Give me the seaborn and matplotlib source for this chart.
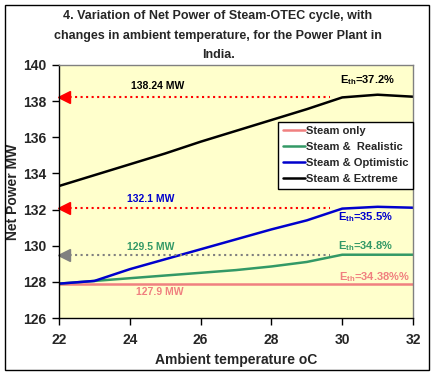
import pandas as pd
import seaborn as sns
import matplotlib.pyplot as plt
from matplotlib.patches import Rectangle

# data
temps = [22, 23, 24, 25, 26, 27, 28, 29, 30, 31, 32]
steam_only = [127.9, 127.9, 127.9, 127.9, 127.9, 127.9, 127.9, 127.9, 127.9, 127.9, 127.9]
steam_realistic = [127.9, 128.05, 128.2, 128.35, 128.5, 128.65, 128.85, 129.1, 129.5, 129.5, 129.5]
steam_optimistic = [127.9, 128.05, 128.7, 129.25, 129.8, 130.35, 130.9, 131.4, 132.05, 132.15, 132.1]
steam_extreme = [133.3, 133.9, 134.5, 135.1, 135.75, 136.35, 136.95, 137.55, 138.2, 138.35, 138.24]

series_names = ['Steam only', 'Steam &  Realistic', 'Steam & Optimistic', 'Steam & Extreme']
series_colors = ['#F08080', '#339966', '#0000CC', '#000000']

ref_values = [138.24, 132.1, 129.5]
ref_labels = ['138.24 MW', '132.1 MW', '129.5 MW']
ref_label_colors = ['#000000', '#0000CC', '#339966']
ref_arrow_colors = ['#FF0000', '#FF0000', '#808080']

eff_labels = ['E$_{\\mathrm{th}}$=34.38%%', 'E$_{\\mathrm{th}}$=34.8%',
              'E$_{\\mathrm{th}}$=35.5%', 'E$_{\\mathrm{th}}$=37.2%']

df = pd.DataFrame({
    'temp': temps * 4,
    'power': steam_only + steam_realistic + steam_optimistic + steam_extreme,
    'series': [n for n in series_names for _ in temps],
})

sns.set_theme(style='white')
plt.rcParams['font.family'] = ['Liberation Sans', 'DejaVu Sans']
plt.rcParams['font.weight'] = 'bold'
plt.rcParams['mathtext.fontset'] = 'custom'
plt.rcParams['mathtext.rm'] = 'Liberation Sans:bold'
plt.rcParams['mathtext.it'] = 'Liberation Sans:bold'
plt.rcParams['mathtext.bf'] = 'Liberation Sans:bold'

fig = plt.figure(figsize=(4.36, 3.75), dpi=100)
ax = fig.add_axes([0.1353, 0.152, 0.812, 0.675])
ax.set_facecolor('#FFFFCC')

sns.lineplot(data=df, x='temp', y='power', hue='series', hue_order=series_names,
             palette=series_colors, linewidth=1.8, ax=ax)

# dotted reference lines with arrow heads at the y axis
for v, c in zip(ref_values, ref_arrow_colors):
    ax.plot([22.15, 29.65], [v, v], linestyle=':', color=c, linewidth=1.5)
    ax.plot([22.15], [v], marker='<', color=c, markersize=8, clip_on=False)

ref_pos = [(24.8, 138.84), (24.6, 132.6), (24.6, 129.95)]
for (x, y), t, c in zip(ref_pos, ref_labels, ref_label_colors):
    ax.text(x, y, t, color=c, fontsize=7.5, fontweight='bold', ha='center', va='center')
ax.text(24.85, 127.44, '127.9 MW', color=series_colors[0], fontsize=7.5,
        fontweight='bold', ha='center', va='center')

eff_pos = [(30.9, 128.25), (30.65, 130.0), (30.65, 131.6), (30.7, 139.15)]
for (x, y), t, c in zip(eff_pos, eff_labels, series_colors):
    ax.text(x, y, t, color=c, fontsize=8, ha='center', va='center')

ax.set_xlim(22, 32)
ax.set_ylim(126, 140)
ax.set_xticks(range(22, 33, 2))
ax.set_yticks(range(126, 141, 2))
ax.tick_params(axis='both', which='major', labelsize=10, length=5, width=1,
               direction='out', color='black', left=True, bottom=True, pad=4)
ax.tick_params(axis='x', pad=6)
for lab in ax.get_xticklabels() + ax.get_yticklabels():
    lab.set_fontweight('bold')

for s in ['left', 'bottom']:
    ax.spines[s].set_color('black')
    ax.spines[s].set_linewidth(1)
for s in ['top', 'right']:
    ax.spines[s].set_color('#808080')
    ax.spines[s].set_linewidth(1)

ax.set_xlabel('Ambient temperature oC', fontsize=10, fontweight='bold', labelpad=4)
ax.set_ylabel('Net Power MW', fontsize=10, fontweight='bold')
ax.yaxis.set_label_coords(-0.11, 0.5)

handles, labels = ax.get_legend_handles_labels()
leg = ax.legend(handles, labels, loc='upper right', bbox_to_anchor=(1.0, 0.776),
                borderaxespad=0, frameon=True, fancybox=False,
                labelspacing=0.55, handlelength=2.0, handletextpad=0.1,
                borderpad=0.4, prop={'weight': 'bold', 'size': 8})
leg.get_frame().set_edgecolor('black')
leg.get_frame().set_facecolor('white')
leg.get_frame().set_alpha(1)
leg.get_frame().set_linewidth(1)

fig.text(0.5, 0.972, '4. Variation of Net Power of Steam-OTEC cycle, with\n'
         'changes in ambient temperature, for the Power Plant in\nIndia.',
         ha='center', va='top', fontsize=9, fontweight='bold', linespacing=1.8)

fig.patches.append(Rectangle((5 / 436, 5 / 375), 424 / 436, 365 / 375, transform=fig.transFigure,
                             fill=False, edgecolor='black', linewidth=1))

fig.savefig('out.png', dpi=100)
